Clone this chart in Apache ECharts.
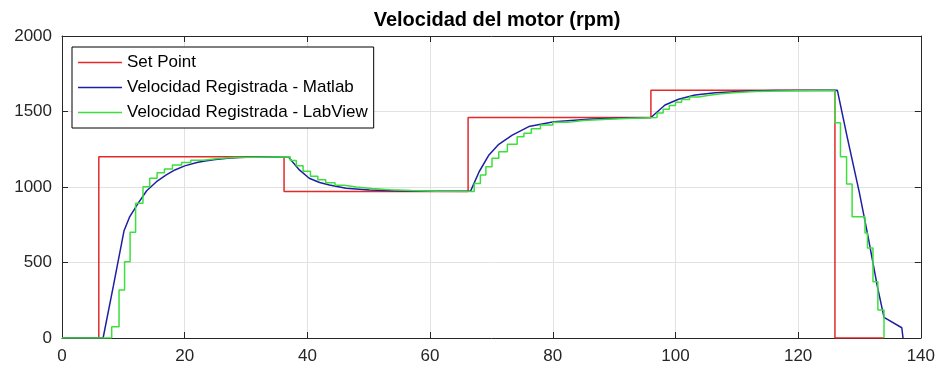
<!DOCTYPE html>
<html>
<head>
<meta charset="utf-8">
<script src="https://cdn.jsdelivr.net/npm/echarts@6.0.0/dist/echarts.min.js"></script>
<style>
  html, body { margin: 0; padding: 0; background: #fff; }
  #chart { width: 938px; height: 371px; }
</style>
</head>
<body>
<div id="chart"></div>
<script>
// [tiempo (s), rpm]
const setPoint = [
  [0, 0], [6, 1200], [36.2, 970], [66.2, 1460], [96, 1640], [126, 0], [134, 0]
]

const velMatlab = [
  [0, 0], [6.7, 0], [8.4, 350], [10.1, 708], [11, 800], [12.4, 892], [13.8, 975],
  [15.4, 1035], [17, 1080], [18.4, 1113], [20, 1140], [22, 1162], [23.3, 1172],
  [25, 1182], [27, 1190], [29, 1196], [31, 1199], [36.9, 1200], [37.6, 1165],
  [38.7, 1113], [40.3, 1058], [42, 1030], [43.6, 1013], [46.3, 991], [50.1, 980],
  [54, 975], [60, 972], [66.6, 973], [68, 1101], [69.6, 1212], [71.2, 1283],
  [73.4, 1344], [76.1, 1400], [80.2, 1432], [86.4, 1450], [92, 1457], [96, 1460],
  [98.3, 1543], [100.5, 1581], [103.2, 1609], [106.5, 1624], [111.3, 1634],
  [116, 1639], [126.4, 1640], [128, 1330], [130, 960], [131.4, 671], [132.9, 345],
  [134, 137], [136.9, 68], [137.1, 0]
]

const velLabView = [
  [0, 0], [8.1, 75], [9.3, 318], [10.2, 505], [11.1, 700], [12.0, 892], [13.2, 1002],
  [14.3, 1058], [15.5, 1095], [16.7, 1120], [18, 1145], [19.5, 1163], [21, 1177],
  [23, 1188], [25.5, 1195], [28, 1200], [37.2, 1175], [38.2, 1140], [39.3, 1105],
  [40.5, 1072], [41.7, 1048], [43, 1028], [44.5, 1012], [46, 1000], [48, 990],
  [50.5, 982], [53.5, 976], [57, 972], [61, 970], [67.2, 1024], [68.2, 1080],
  [69.1, 1134], [70.1, 1190], [71.2, 1234], [72.6, 1283], [74.2, 1333], [75.3, 1356],
  [76.5, 1385], [78, 1410], [80, 1428], [82.5, 1440], [85, 1448], [89, 1455],
  [93, 1460], [97, 1490], [98, 1515], [99, 1540], [100, 1562], [101, 1580],
  [102.3, 1596], [103.8, 1608], [105.5, 1618], [107.5, 1626], [110, 1632],
  [113, 1636], [117, 1640], [126, 1426], [126.9, 1200], [127.9, 1020], [128.8, 803],
  [130.9, 695], [131.3, 596], [132.2, 373], [133, 185], [134, 0]
]

const seriesNames = ['Set Point', 'Velocidad Registrada - Matlab', 'Velocidad Registrada - LabView']
const seriesColors = ['#e22a2a', '#1f1fa3', '#3ddf3d']

const axisColor = '#262626'
const gridColor = '#e2e2e2'

const chart = echarts.init(document.getElementById('chart'))

const frameAxis = (position) => ({
  type: 'value',
  position: position,
  min: 0,
  axisLine: { show: true, onZero: false, lineStyle: { color: axisColor, width: 1 } },
  axisTick: { show: true, inside: true, length: 6, lineStyle: { color: axisColor } },
  axisLabel: { show: false },
  splitLine: { show: false }
})

const option = {
  animation: false,
  backgroundColor: '#fff',
  title: {
    text: 'Velocidad del motor (rpm)',
    left: 492,
    textAlign: 'center',
    top: 5,
    textStyle: {
      fontFamily: 'Liberation Sans',
      fontSize: 20,
      fontWeight: 'bold',
      color: '#000'
    }
  },
  legend: {
    data: seriesNames.map(name => ({ name: name, icon: 'rect' })),
    orient: 'vertical',
    left: 72,
    top: 47,
    padding: [6, 6, 6, 6],
    itemGap: 6,
    itemWidth: 44,
    itemHeight: 1.5,
    backgroundColor: '#fff',
    borderColor: '#000',
    borderWidth: 1,
    borderRadius: 0,
    textStyle: {
      fontFamily: 'Liberation Sans',
      fontSize: 17,
      lineHeight: 19,
      color: '#000'
    }
  },
  grid: {
    left: 62,
    right: 16,
    top: 36,
    bottom: 33
  },
  xAxis: [
    {
      type: 'value',
      position: 'bottom',
      min: 0,
      max: 140,
      interval: 20,
      axisLine: { show: true, onZero: false, lineStyle: { color: axisColor, width: 1 } },
      axisTick: { show: true, inside: true, length: 6, lineStyle: { color: axisColor } },
      axisLabel: { fontFamily: 'Liberation Sans', fontSize: 17, color: axisColor, margin: 10 },
      splitLine: { show: true, lineStyle: { color: gridColor, width: 1 } }
    },
    Object.assign(frameAxis('top'), { max: 140, interval: 20 })
  ],
  yAxis: [
    {
      type: 'value',
      position: 'left',
      min: 0,
      max: 2000,
      interval: 500,
      axisLine: { show: true, onZero: false, lineStyle: { color: axisColor, width: 1 } },
      axisTick: { show: true, inside: true, length: 6, lineStyle: { color: axisColor } },
      axisLabel: {
        fontFamily: 'Liberation Sans',
        fontSize: 17,
        color: axisColor,
        margin: 10,
        formatter: (v) => String(v)
      },
      splitLine: { show: true, lineStyle: { color: gridColor, width: 1 } }
    },
    Object.assign(frameAxis('right'), { max: 2000, interval: 500 })
  ],
  series: [
    {
      name: seriesNames[0],
      type: 'line',
      step: 'end',
      data: setPoint,
      symbol: 'none',
      lineStyle: { color: seriesColors[0], width: 1.5 },
      itemStyle: { color: seriesColors[0] }
    },
    {
      name: seriesNames[1],
      type: 'line',
      data: velMatlab,
      symbol: 'none',
      lineStyle: { color: seriesColors[1], width: 1.5 },
      itemStyle: { color: seriesColors[1] }
    },
    {
      name: seriesNames[2],
      type: 'line',
      step: 'end',
      data: velLabView,
      symbol: 'none',
      lineStyle: { color: seriesColors[2], width: 1.5 },
      itemStyle: { color: seriesColors[2] }
    }
  ]
}

chart.setOption(option)
</script>
</body>
</html>
